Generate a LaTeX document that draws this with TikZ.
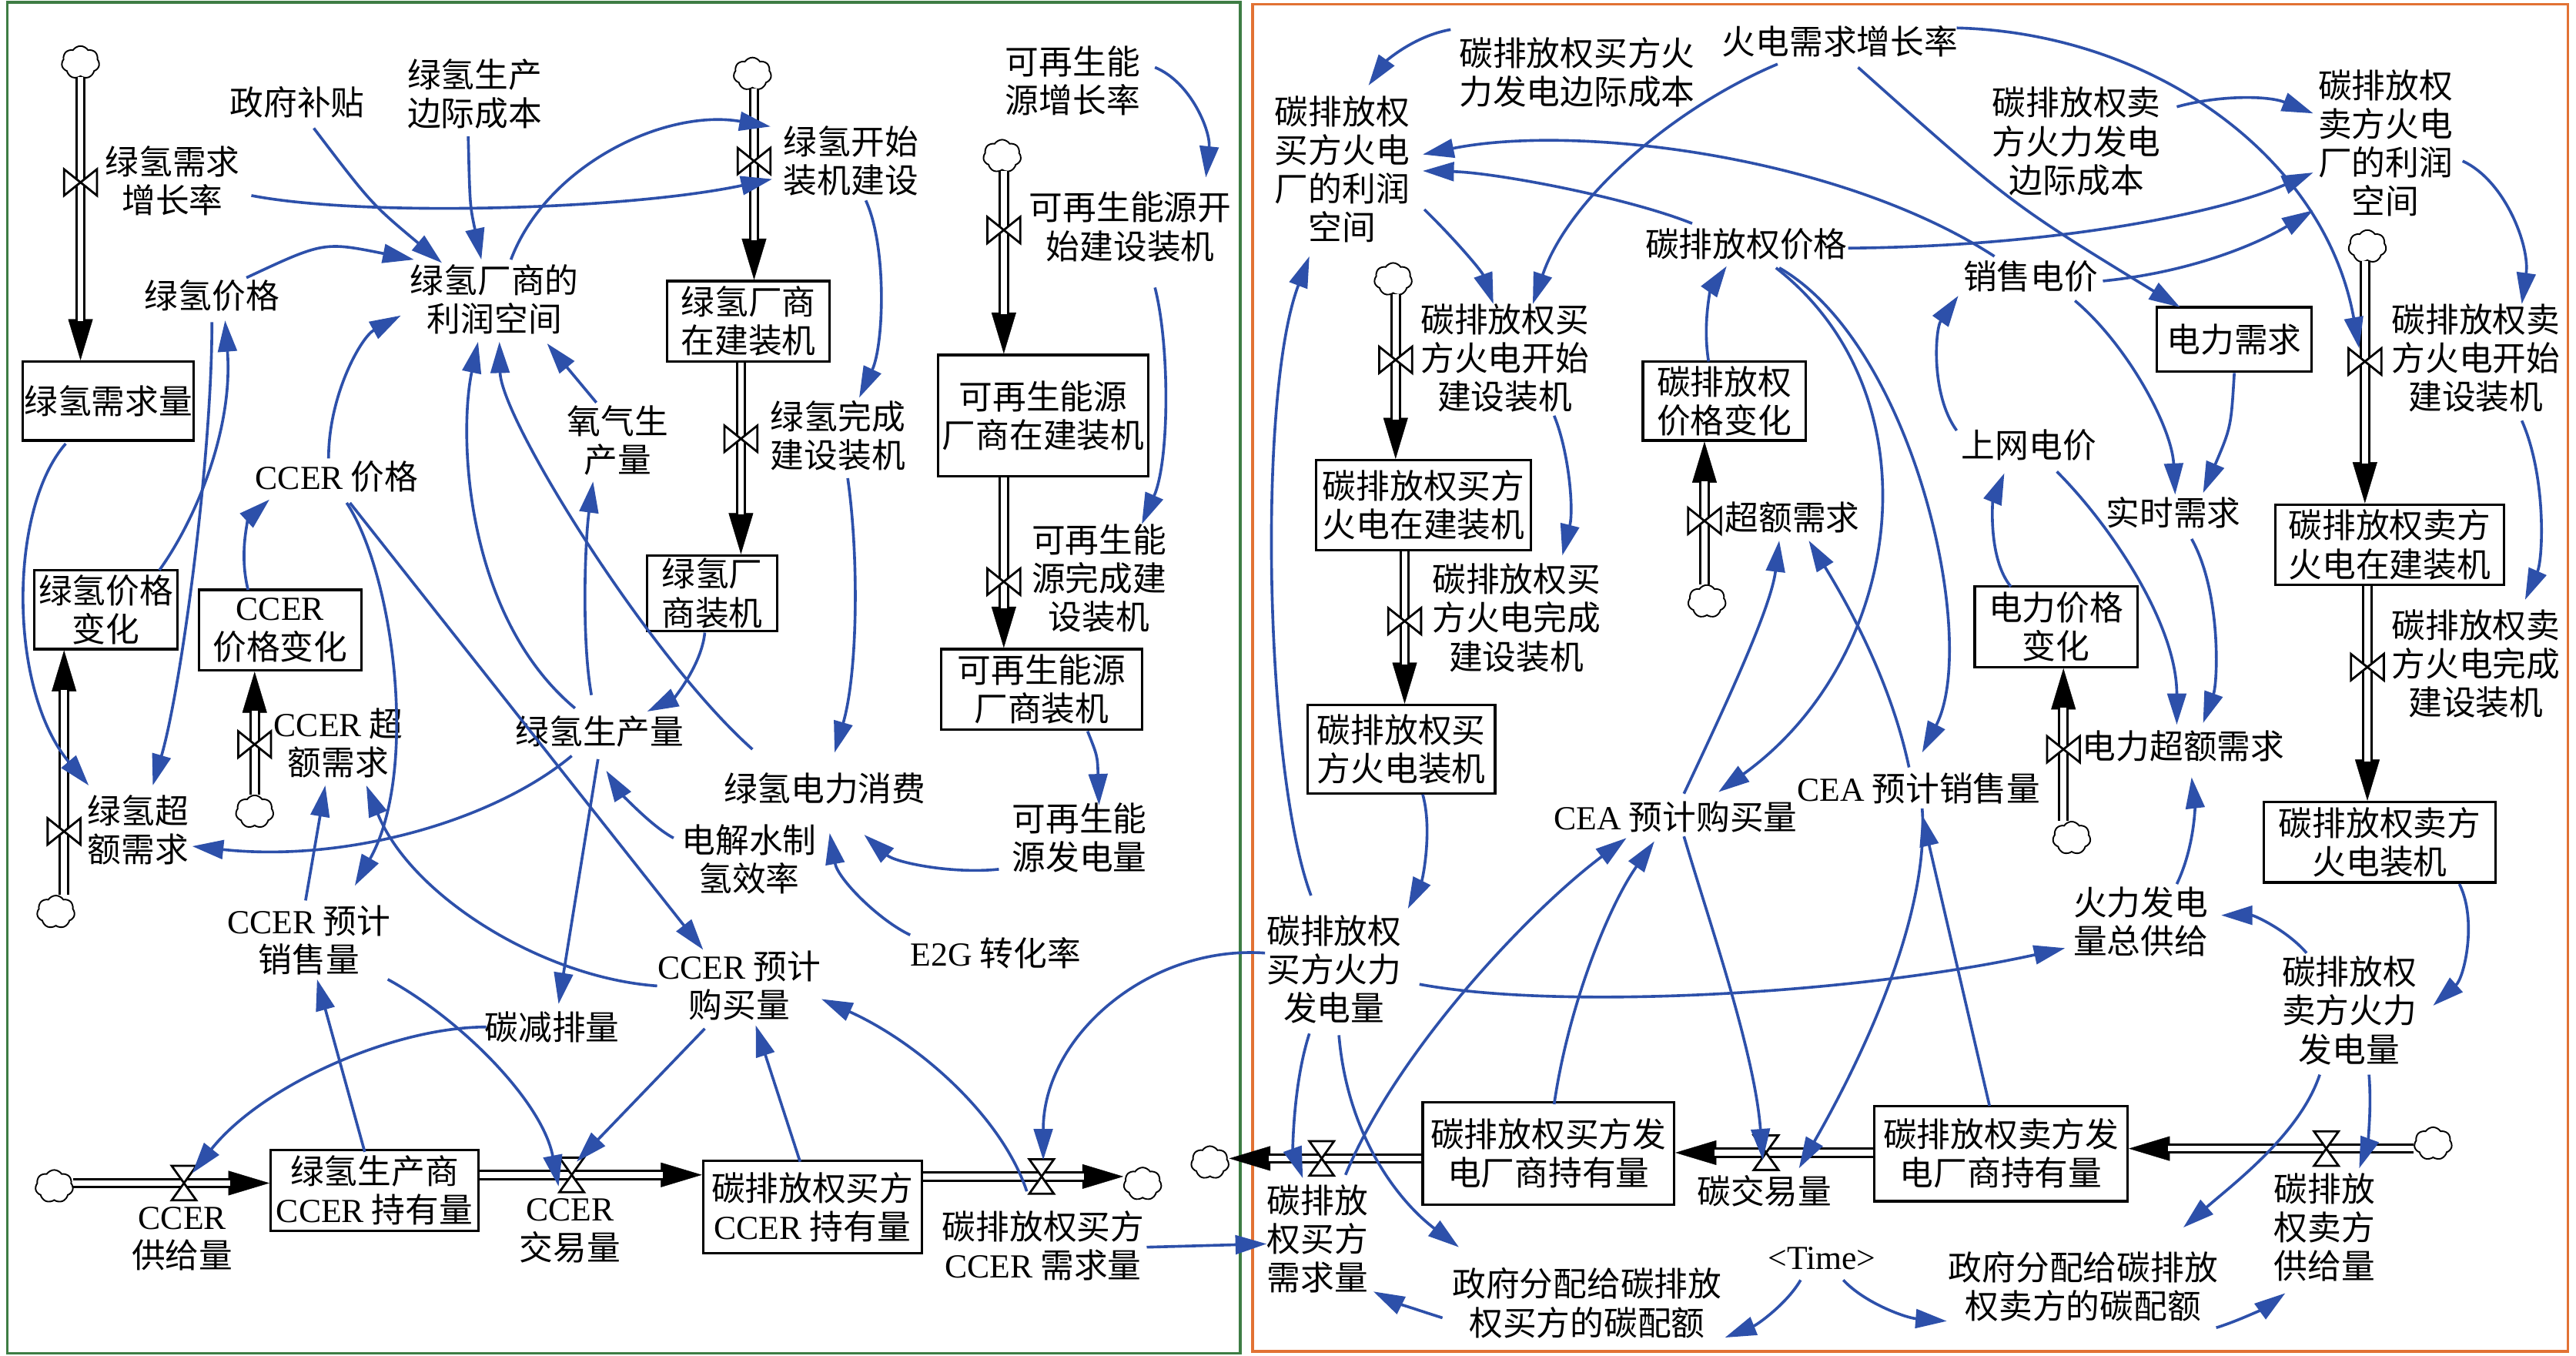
\documentclass[tikz,border=0pt]{standalone}
\usepackage{fontspec}
\setmainfont{Noto Sans CJK SC}
\newfontfamily\lat{Liberation Serif}
\usetikzlibrary{arrows.meta,shapes.symbols,calc}
\definecolor{lnblue}{RGB}{45,80,170}
\definecolor{frgreen}{RGB}{62,125,68}
\definecolor{frorange}{RGB}{226,114,52}
\begin{document}
\begin{tikzpicture}[x=1pt,y=-1pt,
  every node/.style={font=\fontsize{20.5}{23.5}\selectfont},
  var/.style={align=center,inner sep=1pt},
  stock/.style={draw=black,line width=1.5pt,align=center,inner sep=0pt},
  ar/.style={draw=lnblue,line width=1.7pt,-{Triangle[length=19pt,width=11.5pt]}},
  pipe/.style={draw=black,line width=1.4pt,double=white,double distance=3.6pt},
  pipetip/.style={draw=black,line width=0.2pt,-{Triangle[length=25pt,width=15pt]}},
  cloudn/.style={cloud,cloud puffs=7,cloud puff arc=115,draw=black,line width=0.9pt,minimum width=23pt,minimum height=20pt,inner sep=0pt,fill=white},
  valveV/.pic={\draw[black,line width=1.3pt,fill=white] (-10,-8) -- (-10,8) -- (10,-8) -- (10,8) -- cycle;},
  valveH/.pic={\draw[black,line width=1.3pt,fill=white] (-7.5,-10.5) -- (7.5,-10.5) -- (-7.5,10.5) -- (7.5,10.5) -- cycle;}
]
\useasboundingbox (0,0) rectangle (1568,825);
\fill[white] (0,0) rectangle (1568,825);
\draw[frgreen,line width=1.6pt] (4.5,1.5) rectangle (755,823.5);
\draw[frorange,line width=1.6pt] (762.5,2.5) rectangle (1563,822.5);

% ---------- left variables ----------
\node[var] (gzzl) at (105,110) {绿氢需求\\增长率};
\node[var] (zfbt) at (181,62) {政府补贴};
\node[var] (scbj) at (289,57) {绿氢生产\\边际成本};
\node[var] (lrkj) at (301,182) {绿氢厂商的\\利润空间};
\node[var] (qjg) at (129,180) {绿氢价格};
\node[var] (ksjs) at (518,98) {绿氢开始\\装机建设};
\node[var] (wcjs) at (510,265) {绿氢完成\\建设装机};
\node[var] (yqsc) at (376,268) {氧气生\\产量};
\node[var] (ccerjg) at (205,290) {{\lat CCER} 价格};
\node[var] (scl) at (365,445) {绿氢生产量};
\node[var] (dlxf) at (502,480) {绿氢电力消费};
\node[var] (djl) at (456,523) {电解水制\\氢效率};
\node[var] (e2g) at (606,580) {{\lat E2G} 转化率};
\node[var] (zcxs) at (657,510) {可再生能\\源发电量};
\node[var] (zzl) at (653,49) {可再生能\\源增长率};
\node[var] (zcks) at (688,138) {可再生能源开\\始建设装机};
\node[var] (zcwc) at (669,352) {可再生能\\源完成建\\设装机};
\node[var] (cxqe) at (84,505) {绿氢超\\额需求};
\node[var] (ccercq) at (206,452) {{\lat CCER} 超\\额需求};
\node[var] (ccerxs) at (188,572) {{\lat CCER} 预计\\销售量};
\node[var] (ccergm) at (450,600) {{\lat CCER} 预计\\购买量};
\node[var] (tjpl) at (336,625) {碳减排量};
\node[var] (ccergj) at (111,754) {{\lat CCER}\\供给量};
\node[var] (ccerjy) at (347,749) {{\lat CCER}\\交易量};
\node[var] (ccerxq) at (635,758) {碳排放权买方\\{\lat CCER} 需求量};

% ---------- left stocks ----------
\node[stock,minimum width=104pt,minimum height=48pt] (xql) at (66,244) {绿氢需求量};
\node[stock,minimum width=87pt,minimum height=48pt] (jgbh) at (64.5,371) {绿氢价格\\变化};
\node[stock,minimum width=99pt,minimum height=49pt] (ccerbh) at (170.5,383.5) {{\lat CCER}\\价格变化};
\node[stock,minimum width=99pt,minimum height=49pt] (zjzj) at (455.5,195.5) {绿氢厂商\\在建装机};
\node[stock,minimum width=79pt,minimum height=46pt] (zj) at (433.5,361) {绿氢厂\\商装机};
\node[stock,minimum width=128pt,minimum height=74pt] (zczj) at (635,253) {可再生能源\\厂商在建装机};
\node[stock,minimum width=122pt,minimum height=49pt] (zczhuangji) at (634,419.5) {可再生能源\\厂商装机};
\node[stock,minimum width=126.5pt,minimum height=49pt] (lqcy) at (228,724.5) {绿氢生产商\\{\lat CCER} 持有量};
\node[stock,minimum width=133pt,minimum height=56pt] (mfcy) at (494.5,734.5) {碳排放权买方\\{\lat CCER} 持有量};

% ---------- right variables ----------
\node[var] (mfcb) at (960,44) {碳排放权买方火\\力发电边际成本};
\node[var] (mflr) at (817,103) {碳排放权\\买方火电\\厂的利润\\空间};
\node[var] (hzzl) at (1120,25) {火电需求增长率};
\node[var] (tjg) at (1063,148.5) {碳排放权价格};
\node[var] (mfks) at (916,218) {碳排放权买\\方火电开始\\建设装机};
\node[var] (mfwc) at (923,376) {碳排放权买\\方火电完成\\建设装机};
\node[var] (mffd) at (812,590) {碳排放权\\买方火力\\发电量};
\node[var] (ceagm) at (1020,497) {{\lat CEA} 预计购买量};
\node[var] (ceaxs) at (1168,480) {{\lat CEA} 预计销售量};
\node[var] (cezq) at (1091,315) {超额需求};
\node[var] (xsdj) at (1236,168) {销售电价};
\node[var] (swdj) at (1235,271) {上网电价};
\node[var] (sfcb) at (1264,86) {碳排放权卖\\方火力发电\\边际成本};
\node[var] (sflr) at (1452,87) {碳排放权\\卖方火电\\厂的利润\\空间};
\node[var] (sfks) at (1507,218) {碳排放权卖\\方火电开始\\建设装机};
\node[var] (sfwc) at (1507,404) {碳排放权卖\\方火电完成\\建设装机};
\node[var] (sssq) at (1323,312) {实时需求};
\node[var] (dlcq) at (1329,454) {电力超额需求};
\node[var] (zgj) at (1303,561) {火力发电\\量总供给};
\node[var] (sffd) at (1430,615) {碳排放权\\卖方火力\\发电量};
\node[var] (sfgj) at (1415,747) {碳排放\\权卖方\\供给量};
\node[var] (sfpe) at (1268,783) {政府分配给碳排放\\权卖方的碳配额};
\node[var] (tm) at (1109,766) {{\lat <Time>}};
\node[var] (mfpe) at (966,793) {政府分配给碳排放\\权买方的碳配额};
\node[var] (tjyl) at (1074,725) {碳交易量};
\node[var] (mfxq) at (802,754) {碳排放\\权买方\\需求量};

% ---------- right stocks ----------
\node[stock,minimum width=99pt,minimum height=48pt] (tjgbh) at (1049.5,244) {碳排放权\\价格变化};
\node[stock,minimum width=131pt,minimum height=55pt] (mfzjz) at (866.5,307.5) {碳排放权买方\\火电在建装机};
\node[stock,minimum width=114pt,minimum height=54pt] (mfzj) at (853,456) {碳排放权买\\方火电装机};
\node[stock,minimum width=94pt,minimum height=39pt] (dlxq) at (1360,206.5) {电力需求};
\node[stock,minimum width=99pt,minimum height=49pt] (dljgbh) at (1251.5,381.5) {电力价格\\变化};
\node[stock,minimum width=139pt,minimum height=49pt] (sfzjz) at (1454.5,331.5) {碳排放权卖方\\火电在建装机};
\node[stock,minimum width=141pt,minimum height=49pt] (sfzj) at (1448.5,512.5) {碳排放权卖方\\火电装机};
\node[stock,minimum width=153pt,minimum height=62pt] (mfcyl) at (942.5,702) {碳排放权买方发\\电厂商持有量};
\node[stock,minimum width=154pt,minimum height=58pt] (sfcyl) at (1218,702) {碳排放权卖方发\\电厂商持有量};

% ---------- clouds ----------
\node[cloudn] (cA) at (49,38) {};
\node[cloudn] (cB) at (34,555) {};
\node[cloudn] (cC) at (155,494) {};
\node[cloudn] (cD) at (458,45) {};
\node[cloudn] (cF) at (610,95) {};
\node[cloudn] (cH) at (33,722) {};
\node[cloudn] (cJ) at (695.5,720.5) {};
\node[cloudn] (cK) at (848,170) {};
\node[cloudn] (cM) at (1039,366) {};
\node[cloudn] (cN) at (1261,510) {};
\node[cloudn] (cO) at (1441,150) {};
\node[cloudn] (cQ) at (1481,696) {};
\node[cloudn] (cS) at (736.5,707.5) {};

% ---------- valves ----------
\coordinate (vA) at (49,111);
\coordinate (vB) at (39,506);
\coordinate (vC) at (155,453);
\coordinate (vD) at (459,98);
\coordinate (vE) at (451,267);
\coordinate (vF) at (611,140);
\coordinate (vG) at (611,354);
\coordinate (vH) at (112,720);
\coordinate (vI) at (348,715);
\coordinate (vJ) at (634,716);
\coordinate (vK) at (849.5,219);
\coordinate (vL) at (855,378);
\coordinate (vM) at (1037.5,317);
\coordinate (vN) at (1256,456);
\coordinate (vO) at (1439.5,220);
\coordinate (vP) at (1441,406);
\coordinate (vQ) at (1416,699);
\coordinate (vR) at (1075,701.5);
\coordinate (vS) at (804.5,705);

% ---------- pipes ----------
\foreach \s/\t in {
  {vA |- cA.south}/{vA |- xql.north},
  {vB |- cB.north}/{vB |- jgbh.south},
  {vC |- cC.north}/{vC |- ccerbh.south},
  {vD |- cD.south}/{vD |- zjzj.north},
  {vE |- zjzj.south}/{vE |- zj.north},
  {vF |- cF.south}/{vF |- zczj.north},
  {vG |- zczj.south}/{vG |- zczhuangji.north},
  {cH.east |- vH}/{lqcy.west |- vH},
  {lqcy.east |- vI}/{mfcy.west |- vI},
  {mfcy.east |- vJ}/{cJ.west |- vJ},
  {vK |- cK.south}/{vK |- mfzjz.north},
  {vL |- mfzjz.south}/{vL |- mfzj.north},
  {vM |- cM.north}/{vM |- tjgbh.south},
  {vN |- cN.north}/{vN |- dljgbh.south},
  {vO |- cO.south}/{vO |- sfzjz.north},
  {vP |- sfzjz.south}/{vP |- sfzj.north},
  {cQ.west |- vQ}/{sfcyl.east |- vQ},
  {sfcyl.west |- vR}/{mfcyl.east |- vR},
  {mfcyl.west |- vS}/{cS.east |- vS}}{
  \draw[pipetip] (\s) -- (\t);
  \draw[pipe,shorten >=24pt] (\s) -- (\t);
}
\foreach \v in {vA,vB,vC,vD,vE,vF,vG,vK,vL,vM,vN,vO,vP} {\pic at (\v) {valveV};}
\foreach \v in {vH,vI,vJ,vQ,vR,vS} {\pic at (\v) {valveH};}

% ---------- left connectors ----------
\draw[ar] ([shift={(10,16)}]zfbt.center) .. controls (226,124) .. ([shift={(-32,-22)}]lrkj.center);
\draw[ar] ([shift={(-4,26)}]scbj.center) .. controls (286,125) .. ([shift={(-8,-24)}]lrkj.center);
\draw[ar] ([shift={(21,-11)}]qjg.center) .. controls (197,147) .. ([shift={(-49,-24)}]lrkj.center);
\draw[ar] ([shift={(48,9)}]gzzl.center) .. controls (220,132) and (380,128) .. ([shift={(-48,11)}]ksjs.center);
\draw[ar] ([shift={(10,-24)}]lrkj.center) .. controls (333,100) and (405,66) .. ([shift={(-49,-21)}]ksjs.center);
\draw[ar] ([shift={(9,24)}]ksjs.center) .. controls (540,150) and (538,210) .. ([shift={(13,-23)}]wcjs.center);
\draw[ar] ([shift={(6,26)}]wcjs.center) .. controls (523,340) and (522,410) .. ([shift={(6,-22)}]dlxf.center);
\draw[ar] ([shift={(-15,-14)}]scl.center) .. controls (283,375) and (279,265) .. ([shift={(-10,26)}]lrkj.center);
\draw[ar] ([shift={(-44,-24)}]dlxf.center) .. controls (395,400) and (305,255) .. ([shift={(3,26)}]lrkj.center);
\draw[ar] ([shift={(-5,-11)}]ccerjg.center) .. controls (200,240) and (220,205) .. ([shift={(-57,10)}]lrkj.center);
\draw[ar] ([shift={(-13,-23)}]yqsc.center) -- ([shift={(32,27)}]lrkj.center);
\draw[ar] ([shift={(-5,-22)}]scl.center) .. controls (354,390) and (356,330) .. ([shift={(-15,25)}]yqsc.center);
\draw[ar] ([shift={(-4.5,24)}]zj.center) .. controls (427,405) and (410,425) .. ([shift={(29,-12)}]scl.center);
\draw[ar] ([shift={(-46,-13)}]djl.center) .. controls (395,502) and (376,480) .. ([shift={(4,24)}]scl.center);
\draw[ar] ([shift={(-1,17)}]scl.center) -- ([shift={(4,-14)}]tjpl.center);
\draw[ar] ([shift={(-17,15)}]scl.center) .. controls (300,500) and (210,525) .. ([shift={(33,10)}]cxqe.center);
\draw[ar] ([shift={(-26,26)}]xql.center) .. controls (5,310) and (5,420) .. ([shift={(-30,-27)}]cxqe.center);
\draw[ar] ([shift={(0,16)}]qjg.center) .. controls (129,280) and (110,420) .. ([shift={(9,-27)}]cxqe.center);
\draw[ar] ([shift={(32.5,-24)}]jgbh.center) .. controls (120,315) and (142,260) .. ([shift={(8,15)}]qjg.center);
\draw[ar] ([shift={(-19.5,-24.5)}]ccerbh.center) .. controls (145,335) and (152,315) .. ([shift={(-41,14)}]ccerjg.center);
\draw[ar] ([shift={(6,16)}]ccerjg.center) .. controls (240,350) and (255,470) .. ([shift={(28,-33)}]ccerxs.center);
\draw[ar] ([shift={(8,16)}]ccerjg.center) -- ([shift={(-22,-22)}]ccergm.center);
\draw[ar] ([shift={(-2,-24)}]ccerxs.center) -- ([shift={(-8,26)}]ccercq.center);
\draw[ar] ([shift={(-50,0)}]ccergm.center) .. controls (330,595) and (250,545) .. ([shift={(17,26)}]ccercq.center);
\draw[ar] ([shift={(-6,-23.5)}]lqcy.center) -- ([shift={(5,24)}]ccerxs.center);
\draw[ar] ([shift={(48,24)}]ccerxs.center) .. controls (280,620) and (330,670) .. ([shift={(-8,7)}]vI.center);
\draw[ar] ([shift={(-40,0)}]tjpl.center) .. controls (240,625) and (160,660) .. ([shift={(5,-6)}]vH.center);
\draw[ar] ([shift={(-7.5,-27.5)}]mfcy.center) -- ([shift={(10,24)}]ccergm.center);
\draw[ar] ([shift={(-9,9)}]vJ.center) .. controls (610,680) and (560,635) .. ([shift={(50,8)}]ccergm.center);
\draw[ar] ([shift={(-21,26)}]ccergm.center) -- ([shift={(3,-8)}]vI.center);
\draw[ar] ([shift={(-42,-10)}]mffd.center) .. controls (700,575) and (635,630) .. ([shift={(1,-10)}]vJ.center);
\draw[ar] ([shift={(63,1)}]ccerxq.center) -- ([shift={(-31,3)}]mfxq.center);
\draw[ar] ([shift={(50,-8)}]zzl.center) .. controls (725,50) and (737,80) .. ([shift={(46,-30)}]zcks.center);
\draw[ar] ([shift={(15,37)}]zcks.center) .. controls (712,210) and (712,280) .. ([shift={(26,-33)}]zcwc.center);
\draw[ar] ([shift={(28,25.5)}]zczhuangji.center) .. controls (668,460) .. ([shift={(12,-20)}]zcxs.center);
\draw[ar] ([shift={(-49,19)}]zcxs.center) .. controls (580,532) and (545,525) .. ([shift={(24,28)}]dlxf.center);
\draw[ar] ([shift={(-52,-11)}]e2g.center) .. controls (535,560) and (510,535) .. ([shift={(3,27)}]dlxf.center);

% ---------- right connectors ----------
\draw[ar] ([shift={(-77,-26)}]mfcb.center) .. controls (860,22) and (843,38) .. ([shift={(16,-51)}]mflr.center);
\draw[ar] ([shift={(-38,14)}]hzzl.center) .. controls (1020,65) and (955,120) .. ([shift={(17,-33)}]mfks.center);
\draw[ar] ([shift={(11,16)}]hzzl.center) .. controls (1224,124) .. ([shift={(-33,-19.5)}]dlxq.center);
\draw[ar] ([shift={(71,-8)}]hzzl.center) .. controls (1310,20) and (1415,95) .. ([shift={(-3.5,-8)}]vO.center);
\draw[ar] ([shift={(50,24.5)}]mflr.center) .. controls (885,145) and (902,165) .. ([shift={(-7,-33)}]mfks.center);
\draw[ar] ([shift={(30,35)}]mfks.center) .. controls (955,275) and (958,310) .. ([shift={(28,-38)}]mfwc.center);
\draw[ar] ([shift={(-33,-12.5)}]tjg.center) .. controls (990,120) and (910,105) .. ([shift={(49,1)}]mflr.center);
\draw[ar] ([shift={(-22,-12)}]xsdj.center) .. controls (1120,95) and (960,75) .. ([shift={(49,-9)}]mflr.center);
\draw[ar] ([shift={(62,2.5)}]tjg.center) .. controls (1250,150) and (1350,130) .. ([shift={(-44,18)}]sflr.center);
\draw[ar] ([shift={(44,3)}]xsdj.center) .. controls (1340,165) and (1380,145) .. ([shift={(-44,41)}]sflr.center);
\draw[ar] ([shift={(61,-21)}]sfcb.center) .. controls (1350,58) and (1380,58) .. ([shift={(-44,-18)}]sflr.center);
\draw[ar] ([shift={(47,11)}]sflr.center) .. controls (1525,110) and (1540,150) .. ([shift={(28,-33)}]sfks.center);
\draw[ar] ([shift={(28,38)}]sfks.center) .. controls (1550,290) and (1548,340) .. ([shift={(30,-39)}]sfwc.center);
\draw[ar] ([shift={(48.5,25.5)}]sfzj.center) .. controls (1508,560) and (1500,595) .. ([shift={(51,-3)}]sffd.center);
\draw[ar] ([shift={(-26,-35)}]sffd.center) .. controls (1392,566) and (1372,557) .. ([shift={(49,-4)}]zgj.center);
\draw[ar] ([shift={(22,-23)}]zgj.center) .. controls (1336,515) and (1336,490) .. ([shift={(5,19)}]dlcq.center);
\draw[ar] ([shift={(-27.5,-24.5)}]dljgbh.center) .. controls (1210,340) and (1213,305) .. ([shift={(-15,17)}]swdj.center);
\draw[ar] ([shift={(-44,-9)}]swdj.center) .. controls (1175,240) and (1178,200) .. ([shift={(-44,12)}]xsdj.center);
\draw[ar] ([shift={(17,16)}]swdj.center) .. controls (1285,320) and (1325,380) .. ([shift={(-4,-13)}]dlcq.center);
\draw[ar] ([shift={(27,15)}]xsdj.center) .. controls (1295,210) and (1322,260) .. ([shift={(1,-11)}]sssq.center);
\draw[ar] ([shift={(0,20.5)}]dlxq.center) .. controls (1358,260) .. ([shift={(18,-12)}]sssq.center);
\draw[ar] ([shift={(11,16)}]sssq.center) .. controls (1352,360) and (1350,415) .. ([shift={(12,-14)}]dlcq.center);
\draw[ar] ([shift={(-9.5,-24)}]tjgbh.center) .. controls (1036,195) and (1042,175) .. ([shift={(-12,13.5)}]tjg.center);
\draw[ar] ([shift={(5,-14)}]ceagm.center) .. controls (1050,430) and (1078,370) .. ([shift={(-8,14)}]cezq.center);
\draw[ar] ([shift={(-6,-13)}]ceaxs.center) .. controls (1150,410) and (1120,360) .. ([shift={(10,14)}]cezq.center);
\draw[ar] ([shift={(18,14.5)}]tjg.center) .. controls (1180,240) and (1160,400) .. ([shift={(26,-15)}]ceagm.center);
\draw[ar] ([shift={(20,14.5)}]tjg.center) .. controls (1165,210) and (1205,390) .. ([shift={(2,-22)}]ceaxs.center);
\draw[ar] ([shift={(14.5,10)}]vS.center) .. controls (850,640) and (930,555) .. ([shift={(-30,13)}]ceagm.center);
\draw[ar] ([shift={(3.5,-30)}]mfcyl.center) .. controls (955,610) and (980,550) .. ([shift={(-13,15)}]ceagm.center);
\draw[ar] ([shift={(5,12)}]ceagm.center) .. controls (1040,560) and (1068,640) .. ([shift={(-2,4.5)}]vR.center);
\draw[ar] ([shift={(2,12)}]ceaxs.center) .. controls (1175,560) and (1130,650) .. ([shift={(20,9.5)}]vR.center);
\draw[ar] ([shift={(-7,-29)}]sfcyl.center) -- ([shift={(2,16)}]ceaxs.center);
\draw[ar] ([shift={(52,9)}]mffd.center) .. controls (950,615) and (1130,605) .. ([shift={(-46,16)}]zgj.center);
\draw[ar] ([shift={(12,39)}]sffd.center) .. controls (1444,680) and (1440,700) .. ([shift={(20,12)}]vQ.center);
\draw[ar] ([shift={(-18,39)}]sffd.center) .. controls (1400,690) and (1360,720) .. ([shift={(61,-36)}]sfpe.center);
\draw[ar] ([shift={(81,25)}]sfpe.center) .. controls (1365,803) and (1380,795) .. ([shift={(-24,40)}]sfgj.center);
\draw[ar] ([shift={(13,13)}]tm.center) .. controls (1135,793) and (1160,802) .. ([shift={(-83,21)}]sfpe.center);
\draw[ar] ([shift={(-13,13)}]tm.center) .. controls (1088,793) and (1070,806) .. ([shift={(84,21)}]mfpe.center);
\draw[ar] ([shift={(-88,9)}]mfpe.center) .. controls (862,797) and (848,792) .. ([shift={(34,32)}]mfxq.center);
\draw[ar] ([shift={(3,40)}]mffd.center) .. controls (820,690) and (850,730) .. ([shift={(-78,-34)}]mfpe.center);
\draw[ar] ([shift={(-15,39)}]mffd.center) .. controls (787,660) and (787,700) .. ([shift={(-11.5,12)}]vS.center);
\draw[ar] ([shift={(13,27.5)}]mfzj.center) .. controls (872,505) and (866,535) .. ([shift={(45,-37)}]mffd.center);
\draw[ar] ([shift={(-14,-45)}]mffd.center) .. controls (770,470) and (765,240) .. ([shift={(-20,53)}]mflr.center);
\end{tikzpicture}
\end{document}
